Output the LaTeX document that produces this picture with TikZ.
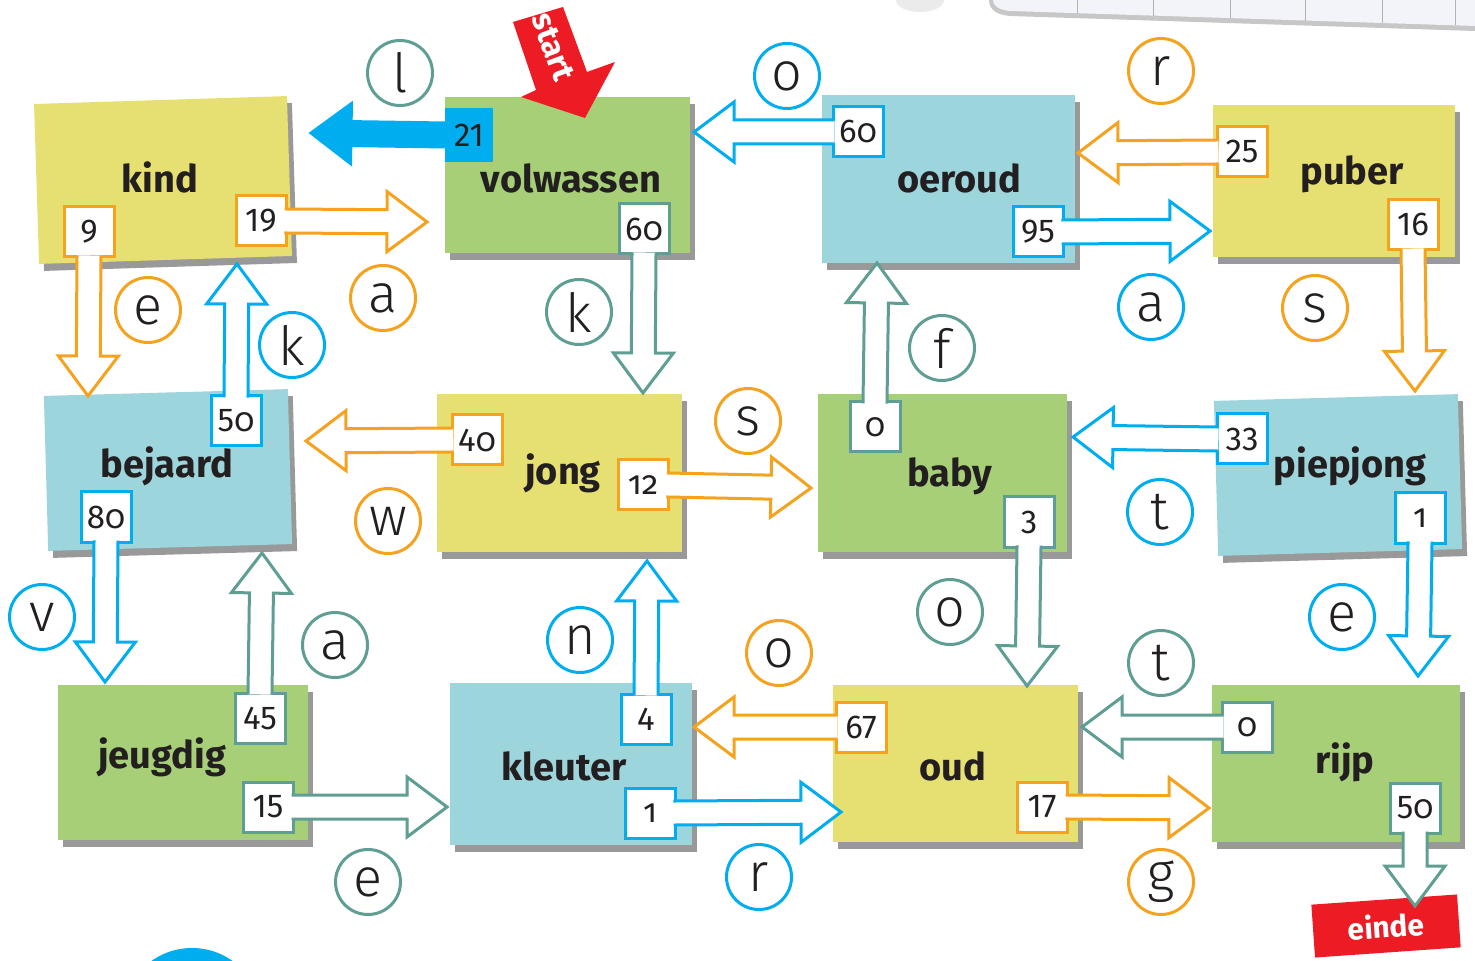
\documentclass[tikz,border=0pt]{standalone}
\usepackage{fontspec}
\setmainfont{Fira Sans}
\newfontfamily\hand{Fira Sans Light}
\usetikzlibrary{calc,shadows}
\definecolor{orn}{HTML}{F5A31F}
\definecolor{cyn}{HTML}{00AEEF}
\definecolor{tea}{HTML}{5E9E93}
\definecolor{ylw}{HTML}{E6DF72}
\definecolor{grn}{HTML}{A7CF78}
\definecolor{blu}{HTML}{9DD5DC}
\definecolor{rd}{HTML}{ED1C24}
\definecolor{ink}{HTML}{231F20}
\definecolor{paperc}{HTML}{F3F3FA}
\newcommand\os[1]{{\addfontfeature{Numbers=OldStyle}#1}}
% block arrow: #1 fill, #2 line colour, #3 start (box edge), #4 tip
\newcommand\barrow[4]{%
  \coordinate (ba) at (#3);
  \coordinate (bt) at (#4);
  \coordinate (bs) at ($(ba)!-0.75pt!(bt)$);
  \coordinate (bh) at ($(bt)!20pt!(ba)$);
  \coordinate (p1) at ($(bs)!6pt!90:(bt)$);
  \coordinate (p2) at ($(bh)!6pt!90:(bt)$);
  \coordinate (p3) at ($(bh)!15pt!90:(bt)$);
  \coordinate (p5) at ($(bh)!15pt!-90:(bt)$);
  \coordinate (p6) at ($(bh)!6pt!-90:(bt)$);
  \coordinate (p7) at ($(bs)!6pt!-90:(bt)$);
  \fill[#1] (p1) -- (p2) -- (p3) -- (bt) -- (p5) -- (p6) -- (p7) -- cycle;
  \draw[#2, arrowline] (p1) -- (p2) -- (p3) -- (bt) -- (p5) -- (p6) -- (p7);
}
\begin{document}
\begin{tikzpicture}[x=0.5pt,y=-0.5pt,
  note/.style={rectangle, inner sep=0pt, outer sep=0pt,
    drop shadow={shadow xshift=2.5pt, shadow yshift=-3.5pt, fill=black, opacity=0.4}},
  lbl/.style={anchor=base, inner sep=0pt, text=ink, font=\fontsize{19}{19}\selectfont\bfseries},
  numbox/.style={rectangle, fill=white, line width=1.5pt, minimum width=25pt, minimum height=25pt,
    inner sep=0pt, outer sep=0pt, text=ink, font=\fontsize{16.5}{16.5}\selectfont},
  letter/.style={circle, line width=1.5pt, minimum size=32.5pt, inner sep=0pt, text=ink,
    font={\hand\fontsize{27}{27}\selectfont}},
  arrowline/.style={line width=1.5pt, line join=miter, miter limit=10},
]
\useasboundingbox (0,0) rectangle (1475,961);
\fill[white] (0,0) rectangle (1475,961);

% background fragments
\fill[black!22] (989,0) -- (1475,0) -- (1475,31) -- (1010,16) .. controls (996,15) and (989,9) .. (989,0) -- cycle;
\fill[paperc] (993,0) -- (1475,0) -- (1475,26) -- (1010,11) .. controls (999,10) and (993,6) .. (993,0) -- cycle;
\foreach \xx in {1077,1153,1230,1305,1382,1455}
  \draw[black!30, line width=0.4pt] (\xx,0) -- (\xx,{11+(\xx-1010)*15/465});
\fill[black!8] (920,0) ellipse (12pt and 6pt);
\fill[cyn] (192,1018) circle (35pt);

% sticky notes
\node[note, fill=ylw, minimum width=126.5pt, minimum height=80pt, rotate=1.8] (kind) at (163,180) {};
\node[note, fill=grn, minimum width=122.5pt, minimum height=78pt] (volw) at (567,175) {};
\node[note, fill=blu, minimum width=126.5pt, minimum height=84pt] (oeroud) at (948,179) {};
\node[note, fill=ylw, minimum width=121pt, minimum height=76pt] (puber) at (1334,181) {};
\node[note, fill=blu, minimum width=122pt, minimum height=77.5pt, rotate=1.6] (bejaard) at (168,470) {};
\node[note, fill=ylw, minimum width=122.5pt, minimum height=78.5pt] (jong) at (559,473) {};
\node[note, fill=grn, minimum width=124.5pt, minimum height=78.5pt] (baby) at (942,473) {};
\node[note, fill=blu, minimum width=122pt, minimum height=77.5pt, rotate=1.6] (piepjong) at (1338,475) {};
\node[note, fill=grn, minimum width=125pt, minimum height=77.5pt] (jeugdig) at (183,762) {};
\node[note, fill=blu, minimum width=121pt, minimum height=81pt] (kleuter) at (571,764) {};
\node[note, fill=ylw, minimum width=122.5pt, minimum height=78.5pt] (oud) at (955,763) {};
\node[note, fill=grn, minimum width=124pt, minimum height=78.5pt] (rijp) at (1336,763) {};

% note labels
\node[lbl] (kindL) at (160,193) {kind};
\node[lbl] (volwL) at (571,193) {volwassen};
\node[lbl] (oeroudL) at (959,193) {oeroud};
\node[lbl] (puberL) at (1352,185) {puber};
\node[lbl] (bejaardL) at (167,478) {bejaard};
\node[lbl] (jongL) at (563,485) {jong};
\node[lbl] (babyL) at (950,487) {baby};
\node[lbl] (piepjongL) at (1350,478) {piepjong};
\node[lbl] (jeugdigL) at (162,768) {jeugdig};
\node[lbl] (kleuterL) at (564,780) {kleuter};
\node[lbl] (oudL) at (953,780) {oud};
\node[lbl] (rijpL) at (1345,773) {rijp};

% start arrow
\fill[rd] (513,22) -- (563,7) -- (587,72) -- (615,62) -- (585,118) -- (521,97) -- (536,90) -- cycle;
\node[rotate=-70, text=white, inner sep=0pt, font=\fontsize{16}{16}\selectfont\bfseries] (startL) at (553,47) {start};

% einde
\node[fill=rd, rotate=4, minimum width=73pt, minimum height=26.5pt, inner sep=0pt, text=white,
  font=\fontsize{15}{15}\selectfont\bfseries] (einde) at (1386,926) {einde};

% tips
\coordinate (t9) at (88,396);
\coordinate (t19) at (427,222);
\coordinate (t50a) at (237,264);
\coordinate (t21) at (311,133);
\coordinate (t60a) at (643,393);
\coordinate (t60b) at (694,132);
\coordinate (t95) at (1210,231);
\coordinate (t25) at (1078,153);
\coordinate (t16) at (1415,391);
\coordinate (t33) at (1073,437);
\coordinate (t1a) at (1418,676);
\coordinate (t0a) at (877,263);
\coordinate (t3) at (1027,686);
\coordinate (t40) at (306,441);
\coordinate (t12) at (811,488);
\coordinate (t80) at (105,682);
\coordinate (t45) at (262,553);
\coordinate (t15) at (447,807);
\coordinate (t4) at (647,561);
\coordinate (t1b) at (841,812);
\coordinate (t67) at (694,727);
\coordinate (t0b) at (1082,727);
\coordinate (t17) at (1209,808);
\coordinate (t50b) at (1415,906);

% arrows with number boxes
\node[fill=cyn, minimum width=24pt, minimum height=27pt, inner sep=0pt, outer sep=0pt, text=ink,
  font=\fontsize{16.5}{16.5}\selectfont] (n21) at (469,135) {21};
\barrow{cyn}{cyn}{n21.west}{t21}
\node[fill=cyn, minimum width=24pt, minimum height=27pt, inner sep=0pt, outer sep=0pt, text=ink,
  font=\fontsize{16.5}{16.5}\selectfont] at (469,135) {21};

\node[numbox, draw=orn] (n9) at (89,232) {9};
\barrow{white}{orn}{n9.south}{t9}
\node[numbox, draw=orn] (n19) at (261,221) {19};
\barrow{white}{orn}{n19.east}{t19}
\node[numbox, draw=cyn] (n50a) at (236,421) {5\os{0}};
\barrow{white}{cyn}{n50a.north}{t50a}
\node[numbox, draw=tea] (n60a) at (644,229) {6\os{0}};
\barrow{white}{tea}{n60a.south}{t60a}
\node[numbox, draw=cyn] (n60b) at (858,132) {6\os{0}};
\barrow{white}{cyn}{n60b.west}{t60b}
\node[numbox, draw=cyn] (n95) at (1038,232) {95};
\barrow{white}{cyn}{n95.east}{t95}
\node[numbox, draw=orn] (n25) at (1242,152) {25};
\barrow{white}{orn}{n25.west}{t25}
\node[numbox, draw=orn] (n16) at (1413,225) {16};
\barrow{white}{orn}{n16.south}{t16}
\node[numbox, draw=cyn] (n33) at (1242,439) {33};
\barrow{white}{cyn}{n33.west}{t33}
\node[numbox, draw=cyn] (n1a) at (1420,518) {\os{1}};
\barrow{white}{cyn}{n1a.south}{t1a}
\node[numbox, draw=tea] (n0a) at (875,427) {\os{0}};
\barrow{white}{tea}{n0a.north}{t0a}
\node[numbox, draw=tea] (n3) at (1029,522) {3};
\barrow{white}{tea}{n3.south}{t3}
\node[numbox, draw=orn] (n40) at (477,440) {4\os{0}};
\barrow{white}{orn}{n40.west}{t40}
\node[numbox, draw=orn] (n12) at (643,485) {\os{12}};
\barrow{white}{orn}{n12.east}{t12}
\node[numbox, draw=cyn] (n80) at (106,517) {8\os{0}};
\barrow{white}{cyn}{n80.south}{t80}
\node[numbox, draw=tea] (n45) at (260,718) {45};
\barrow{white}{tea}{n45.north}{t45}
\node[numbox, draw=tea] (n15) at (268,807) {15};
\barrow{white}{tea}{n15.east}{t15}
\node[numbox, draw=cyn] (n4) at (646,719) {4};
\barrow{white}{cyn}{n4.north}{t4}
\node[numbox, draw=cyn] (n1b) at (650,813) {\os{1}};
\barrow{white}{cyn}{n1b.east}{t1b}
\node[numbox, draw=orn] (n67) at (861,727) {67};
\barrow{white}{orn}{n67.west}{t67}
\node[numbox, draw=tea] (n0b) at (1247,727) {\os{0}};
\barrow{white}{tea}{n0b.west}{t0b}
\node[numbox, draw=orn] (n17) at (1042,807) {17};
\barrow{white}{orn}{n17.east}{t17}
\node[numbox, draw=tea] (n50b) at (1415,808) {5\os{0}};
\barrow{white}{tea}{n50b.south}{t50b}

% circled letters
\node[letter, draw=tea] (c1) at (400,73) {l};
\node[letter, draw=cyn] (c2) at (787,76) {o};
\node[letter, draw=orn] (c3) at (1161,71) {r};
\node[letter, draw=orn] (c4) at (148,310) {e};
\node[letter, draw=orn] (c5) at (383,298) {a};
\node[letter, draw=cyn] (c6) at (292,345) {k};
\node[letter, draw=tea] (c7) at (579,312) {k};
\node[letter, draw=tea] (c8) at (942,348) {f};
\node[letter, draw=cyn] (c9) at (1151,307) {a};
\node[letter, draw=orn] (c10) at (1315,308) {s};
\node[letter, draw=orn] (c11) at (748,421) {s};
\node[letter, draw=orn] (c12) at (388,521) {w};
\node[letter, draw=cyn] (c13) at (1160,512) {t};
\node[letter, draw=cyn] (c14) at (42,617) {v};
\node[letter, draw=tea] (c15) at (335,645) {a};
\node[letter, draw=cyn] (c16) at (580,640) {n};
\node[letter, draw=tea] (c17) at (950,612) {o};
\node[letter, draw=orn] (c18) at (779,653) {o};
\node[letter, draw=tea] (c19) at (1161,663) {t};
\node[letter, draw=cyn] (c20) at (1342,617) {e};
\node[letter, draw=tea] (c21) at (368,882) {e};
\node[letter, draw=cyn] (c22) at (759,877) {r};
\node[letter, draw=orn] (c23) at (1161,882) {g};
\end{tikzpicture}
\end{document}
